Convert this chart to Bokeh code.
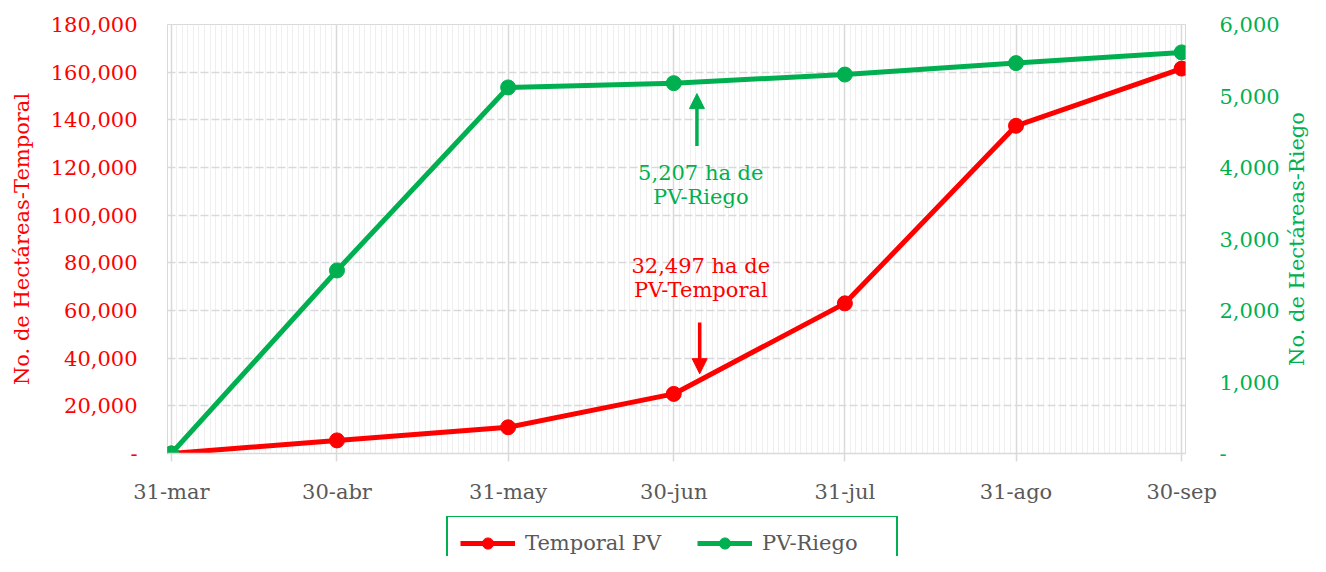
import pandas as pd
from bokeh.plotting import figure
from bokeh.layouts import column, row
from bokeh.models import (Range1d, LinearAxis, FixedTicker, SingleIntervalTicker,
                          NumeralTickFormatter, Legend, LegendItem, Label, Arrow,
                          NormalHead, ColumnDataSource, Title)
from bokeh.embed import file_html
from bokeh.resources import INLINE

# ---- data ----
dates = ["2024-03-31", "2024-04-30", "2024-05-31", "2024-06-30",
         "2024-07-31", "2024-08-31", "2024-09-30"]
date_labels = ["31-mar", "30-abr", "31-may", "30-jun", "31-jul", "31-ago", "30-sep"]
temporal = [0, 5500, 11000, 25000, 63000, 137500, 161500]
riego = [0, 2560, 5120, 5180, 5300, 5460, 5610]
series_names = ["Temporal PV", "PV-Riego"]
left_title = "No. de Hectáreas-Temporal"
right_title = "No. de Hectáreas-Riego"

riego_note = "5,207 ha de\nPV-Riego"
temporal_note = "32,497 ha de\nPV-Temporal"

RED = "#FF0000"
GREEN = "#00B050"
GRAY = "#595959"
FONT = "DejaVu Serif"
FS = "21px"

d = pd.to_datetime(dates)
days = [int((x - d[0]).days) for x in d]
src = ColumnDataSource(dict(day=days, temporal=temporal, riego=riego))

p = figure(width=1282, height=516, output_backend="svg", toolbar_location=None,
           x_range=Range1d(-0.7, days[-1] + 0.7), y_range=Range1d(0, 180000),
           min_border_left=167, min_border_right=94, min_border_top=24,
           min_border_bottom=63, outline_line_color="#d9d9d9",
           background_fill_color="white", border_fill_color="white")
p.extra_y_ranges = {"riego": Range1d(0, 6000)}

# x axis / grid
xt = FixedTicker(ticks=days, minor_ticks=list(range(0, days[-1] + 1)))
p.xaxis.ticker = xt
p.xgrid.ticker = xt
p.xaxis.major_label_overrides = {dd: lab for dd, lab in zip(days, date_labels)}
p.xaxis.major_tick_out = 8
p.xaxis.major_tick_in = 0
p.xaxis.minor_tick_out = 0
p.xaxis.minor_tick_in = 0
p.xaxis.major_tick_line_color = "#d9d9d9"
p.xaxis.major_tick_line_width = 1.5
p.xaxis.axis_line_color = "#d9d9d9"
p.xaxis.axis_line_width = 1.5
p.xaxis.major_label_standoff = 18
p.xaxis.major_label_text_font = FONT
p.xaxis.major_label_text_font_size = FS
p.xaxis.major_label_text_color = GRAY
p.xgrid.grid_line_color = "#d9d9d9"
p.xgrid.grid_line_width = 1.5
p.xgrid.minor_grid_line_color = "#efefef"
p.xgrid.minor_grid_line_width = 1

# left y axis / grid
yt = SingleIntervalTicker(interval=20000)
p.yaxis.ticker = yt
p.ygrid.ticker = yt
p.ygrid.grid_line_color = "#d9d9d9"
p.ygrid.grid_line_width = 1.5
p.ygrid.grid_line_dash = "8 3"


def style_y(ax, color):
    ax.formatter = NumeralTickFormatter(format="0,0")
    ax.major_label_overrides = {0: "-"}
    ax.major_tick_out = 0
    ax.major_tick_in = 0
    ax.minor_tick_out = 0
    ax.minor_tick_in = 0
    ax.axis_line_color = None
    ax.major_label_text_font = FONT
    ax.major_label_text_font_size = FS
    ax.major_label_text_color = color
    ax.axis_label_text_font = FONT
    ax.axis_label_text_font_size = FS
    ax.axis_label_text_font_style = "normal"
    ax.axis_label_text_color = color


ly = p.yaxis[0]
style_y(ly, RED)
ly.axis_label = left_title
ly.major_label_standoff = 30
ly.axis_label_standoff = 14
ry = LinearAxis(y_range_name="riego", ticker=SingleIntervalTicker(interval=1000))
style_y(ry, GREEN)
ry.major_label_standoff = 34
p.add_layout(ry, "right")

# series
r1 = p.line("day", "temporal", source=src, color=RED, line_width=5)
c1 = p.scatter("day", "temporal", source=src, size=15, color=RED)
r2 = p.line("day", "riego", source=src, color=GREEN, line_width=5, y_range_name="riego")
c2 = p.scatter("day", "riego", source=src, size=15, color=GREEN, y_range_name="riego")

# annotations (near 30-jun)
ax_day = days[3] + 4.2
p.add_layout(Arrow(end=NormalHead(size=15, fill_color=GREEN, line_color=GREEN),
                   x_start=ax_day, y_start=129000, x_end=ax_day, y_end=151000,
                   line_color=GREEN, line_width=3.5))
p.add_layout(Arrow(end=NormalHead(size=15, fill_color=RED, line_color=RED),
                   x_start=ax_day + 0.5, y_start=55000, x_end=ax_day + 0.5, y_end=33500,
                   line_color=RED, line_width=3.5))
p.add_layout(Label(x=days[3] + 4.9, y=112600, text=riego_note, text_align="center",
                   text_baseline="middle", text_font=FONT, text_font_size=FS,
                   text_color=GREEN, text_line_height=1.0))
p.add_layout(Label(x=days[3] + 4.9, y=73600, text=temporal_note, text_align="center",
                   text_baseline="middle", text_font=FONT, text_font_size=FS,
                   text_color=RED, text_line_height=1.0))

# right-axis title (reads bottom-to-top like the reference)
rlab = figure(width=28, height=516, output_backend="svg", toolbar_location=None,
              x_axis_location=None, y_axis_location=None,
              min_border_left=26, min_border_right=0, min_border_top=24,
              min_border_bottom=63, outline_line_color=None,
              x_range=Range1d(0, 1), y_range=Range1d(0, 1))
rlab.grid.visible = False
rlab.add_layout(Title(text=right_title, align="center", text_font=FONT,
                      text_font_size=FS, text_font_style="normal",
                      text_color=GREEN, standoff=0, offset=0), "left")

# legend strip below
lg = figure(width=1310, height=40, output_backend="svg", toolbar_location=None,
            x_axis_location=None, y_axis_location=None,
            x_range=Range1d(0, 1), y_range=Range1d(0, 1),
            min_border=0, outline_line_color=None)
lg.grid.visible = False
e1 = lg.line([-10, -9], [-10, -9], color=RED, line_width=5)
e2 = lg.scatter([-10], [-10], size=14, color=RED)
e3 = lg.line([-10, -9], [-10, -9], color=GREEN, line_width=5)
e4 = lg.scatter([-10], [-10], size=14, color=GREEN)
legend = Legend(items=[LegendItem(label=series_names[0], renderers=[e1, e2]),
                       LegendItem(label=series_names[1], renderers=[e3, e4])],
                orientation="horizontal", location=(446, -15),
                border_line_color=GREEN, border_line_width=2, border_line_alpha=1,
                padding=12, spacing=36, label_standoff=10, glyph_width=55,
                glyph_height=28, label_height=24, label_width=122,
                label_text_font=FONT, label_text_font_size=FS,
                label_text_color=GRAY, margin=0, background_fill_alpha=1)
lg.add_layout(legend)

layout = column(row(p, rlab, spacing=0), lg, spacing=0)
open("out.html", "w").write(file_html(layout, INLINE))
